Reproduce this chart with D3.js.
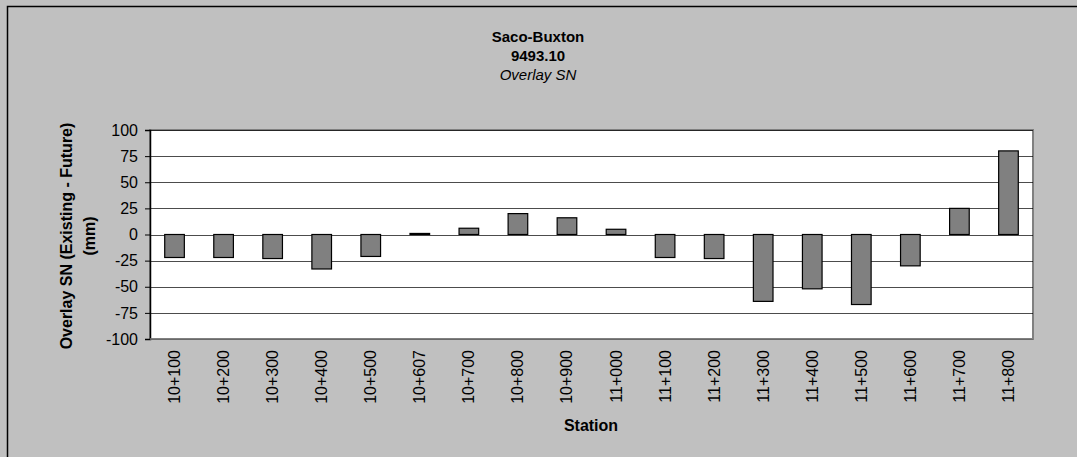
<!DOCTYPE html>
<html><head><meta charset="utf-8">
<script src="https://cdn.jsdelivr.net/npm/d3@7"></script>
<style>
html,body{margin:0;padding:0;background:#c0c0c0;}
svg{display:block;}
text{font-family:"Liberation Sans",Arial,sans-serif;fill:#000;}
</style></head>
<body><svg id="c" width="1077" height="457"></svg>
<script>
const categories = ["10+100","10+200","10+300","10+400","10+500","10+607","10+700","10+800","10+900","11+000","11+100","11+200","11+300","11+400","11+500","11+600","11+700","11+800"];
const values = [-22,-22,-23,-33,-21,1,6,20,16,5,-22,-23,-64,-52,-67,-30,25,80];
const yTicks = [-100,-75,-50,-25,0,25,50,75,100];
const titleLines = ["Saco-Buxton","9493.10","Overlay SN"];
const yLabelLines = ["Overlay SN (Existing - Future)","(mm)"];
const xLabel = "Station";

const svg = d3.select("#c");
svg.append("rect").attr("x",7.5).attr("y",6.5).attr("width",1100).attr("height",500)
  .attr("fill","#c0c0c0").attr("stroke","#000").attr("stroke-width",1.5);

const L=150, R=1033, T=130, B=339;
const x = d3.scaleBand().domain(categories).range([L,R]).paddingInner(0.6).paddingOuter(0.3);
const y = d3.scaleLinear().domain([-100,100]).range([B,T]);

svg.append("rect").attr("x",L).attr("y",T).attr("width",R-L).attr("height",B-T)
  .attr("fill","#fff").attr("stroke","#808080").attr("stroke-width",2);

svg.append("g").selectAll("line").data(yTicks).join("line")
  .attr("x1",L).attr("x2",R).attr("y1",d=>Math.round(y(d))+0.5).attr("y2",d=>Math.round(y(d))+0.5)
  .attr("stroke","#000").attr("stroke-width",1).attr("stroke-opacity",0.7);

svg.append("g").selectAll("rect").data(values).join("rect")
  .attr("x",(d,i)=>x(categories[i]))
  .attr("width",x.bandwidth())
  .attr("y",d=>Math.min(y(d),y(0)))
  .attr("height",d=>Math.abs(y(d)-y(0)))
  .attr("fill","#808080").attr("stroke","#000").attr("stroke-width",1.2);

const yAxis = svg.append("g").attr("transform",`translate(${L},0)`)
  .call(d3.axisLeft(y).tickValues(yTicks).tickSize(5).tickPadding(7).tickFormat(d => String(d)));
yAxis.select(".domain").attr("stroke","#000").attr("stroke-width",1.5);
yAxis.selectAll(".tick line").attr("stroke","#000");
yAxis.selectAll("text").style("font-size","16px").style("font-family","Liberation Sans, Arial, sans-serif").attr("fill","#000");

svg.append("line").attr("x1",L).attr("x2",R).attr("y1",B).attr("y2",B).attr("stroke","#808080").attr("stroke-width",1.5);

const xg = svg.append("g");
categories.forEach(c=>{
  const cx = x(c)+x.bandwidth()/2;
  xg.append("text").attr("transform",`translate(${cx+5.5},350) rotate(-90)`)
    .attr("text-anchor","end").style("font-size","16px").text(c);
});

const tg = svg.append("g");
titleLines.forEach((t,i)=>{
  tg.append("text").attr("x",538).attr("y",[42,61,80][i]).attr("text-anchor","middle")
    .style("font-size","15px").style("font-weight",i<2?"bold":"normal").style("font-style",i==2?"italic":"normal").text(t);
});

yLabelLines.forEach((t,i)=>{
  svg.append("text").attr("transform",`translate(${[72,95][i]},236) rotate(-90)`)
    .attr("text-anchor","middle").style("font-size","16px").style("font-weight","bold").text(t);
});

svg.append("text").attr("x",591).attr("y",431).attr("text-anchor","middle")
  .style("font-size","16px").style("font-weight","bold").text(xLabel);
</script></body></html>
